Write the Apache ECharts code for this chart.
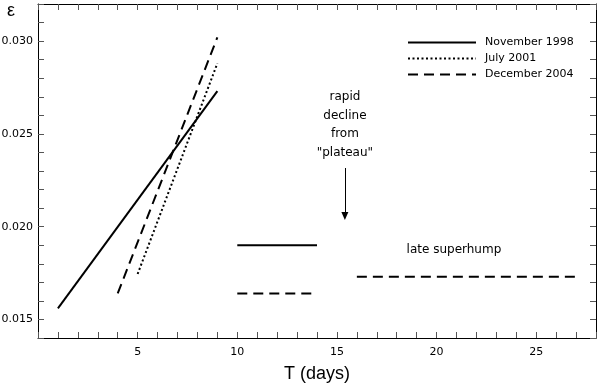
<!DOCTYPE html>
<html>
<head>
<meta charset="utf-8">
<script src="https://cdn.jsdelivr.net/npm/echarts@6/dist/echarts.min.js"></script>
<style>
html, body { margin: 0; padding: 0; background: #fff; }
#chart { width: 597px; height: 385px; }
</style>
</head>
<body>
<div id="chart"></div>
<script>
// rising branches (x = days, y = period excess)
var nov1998Rise = [[1, 0.0156], [9, 0.0273]];
var jul2001Rise = [[5, 0.01745], [9, 0.0288]];
var dec2004Rise = [[4, 0.0164], [9, 0.0302]];
// plateaus
var nov1998Flat = [[10, 0.0190], [14, 0.0190]];
var dec2004Flat = [[10, 0.0164], [14, 0.0164]];
var lateSuperhump = [[16, 0.0173], [27, 0.0173]];

var seriesNames = ['November 1998', 'July 2001', 'December 2004'];
var arrowX = 15.4, arrowTop = 0.02316, arrowTip = 0.02058;

var fontMain = 'DejaVu Sans';
var fontNote = 'DejaVu Sans';

var solid = {color: '#000', width: 2, type: 'solid'};
var dotted = {color: '#000', width: 2, type: [2, 2.5]};
var dashed = {color: '#000', width: 2, type: [10, 6]};

function lineSeries(name, data, style) {
    return {
        name: name,
        type: 'line',
        data: data,
        symbol: 'none',
        lineStyle: style,
        itemStyle: {color: '#000'},
        silent: true
    };
}

var tickStyle = {show: true, inside: true, length: 6, lineStyle: {color: '#555', width: 1}};

var chart = echarts.init(document.getElementById('chart'));
chart.setOption({
    animation: false,
    backgroundColor: '#fff',
    grid: {left: 38, right: 1, top: 4, bottom: 47, containLabel: false, outerBoundsMode: 'none'},
    legend: {
        data: seriesNames,
        orient: 'vertical',
        left: 402,
        top: 32,
        itemWidth: 68,
        itemHeight: 10,
        itemGap: 5,
        selectedMode: false,
        itemStyle: {opacity: 0},
        textStyle: {fontFamily: fontMain, fontSize: 11, color: '#000', padding: [0, 0, 0, 4]}
    },
    xAxis: [{
        type: 'value',
        min: 0,
        max: 28,
        interval: 1,
        name: 'T (days)',
        nameLocation: 'middle',
        nameGap: 27,
        nameTextStyle: {fontFamily: 'Liberation Sans', fontSize: 18, color: '#000'},
        axisLine: {show: true, onZero: false, lineStyle: {color: '#000', width: 1}},
        axisTick: tickStyle,
        splitLine: {show: false},
        axisLabel: {
            fontFamily: fontMain, fontSize: 11, color: '#000', margin: 9,
            formatter: function (v) { return (v % 5 === 0 && v > 0) ? String(v) : ''; }
        }
    }, {
        type: 'value',
        position: 'top',
        min: 0,
        max: 28,
        interval: 1,
        axisLine: {show: true, onZero: false, lineStyle: {color: '#000', width: 1}},
        axisTick: tickStyle,
        axisLabel: {show: false},
        splitLine: {show: false}
    }],
    yAxis: [{
        type: 'value',
        min: 0.014,
        max: 0.032,
        interval: 0.001,
        axisLine: {show: true, onZero: false, lineStyle: {color: '#000', width: 1}},
        axisTick: tickStyle,
        splitLine: {show: false},
        axisLabel: {
            fontFamily: fontMain, fontSize: 11, color: '#000', margin: 5,
            formatter: function (v) {
                var k = Math.round(v * 1000);
                return k % 5 === 0 ? (k / 1000).toFixed(3) : '';
            }
        }
    }, {
        type: 'value',
        position: 'right',
        min: 0.014,
        max: 0.032,
        interval: 0.001,
        axisLine: {show: true, onZero: false, lineStyle: {color: '#000', width: 1}},
        axisTick: tickStyle,
        axisLabel: {show: false},
        splitLine: {show: false}
    }],
    series: [
        lineSeries('November 1998', nov1998Rise, solid),
        lineSeries('July 2001', jul2001Rise, dotted),
        lineSeries('December 2004', dec2004Rise, dashed),
        lineSeries('November 1998', nov1998Flat, solid),
        lineSeries('December 2004', dec2004Flat, dashed),
        lineSeries('late superhump', lateSuperhump, dashed),
        {
            name: 'notes',
            type: 'line',
            data: [],
            silent: true,
            markLine: {
                silent: true,
                symbol: ['none', 'triangle'],
                symbolSize: [7, 8],
                symbolRotate: 180,
                label: {show: false},
                lineStyle: {color: '#000', width: 1, type: 'solid'},
                data: [[{coord: [arrowX, arrowTop]}, {coord: [arrowX, arrowTip]}]]
            },
            markPoint: {
                silent: true,
                symbol: 'circle',
                symbolSize: 0,
                label: {
                    show: true,
                    position: 'inside',
                    formatter: '{b}',
                    fontFamily: fontNote,
                    fontSize: 12,
                    lineHeight: 18.5,
                    color: '#000',
                    align: 'center'
                },
                data: [
                    {name: 'rapid\ndecline\nfrom\n"plateau"', coord: [arrowX, 0.02548]},
                    {name: 'late superhump', coord: [20.87, 0.01874]}
                ]
            }
        }
    ],
    graphic: [{
        type: 'text',
        left: 7,
        top: 2,
        style: {text: 'ε', fontFamily: 'Liberation Sans', fontSize: 18, fill: '#000'}
    }]
});
</script>
</body>
</html>
